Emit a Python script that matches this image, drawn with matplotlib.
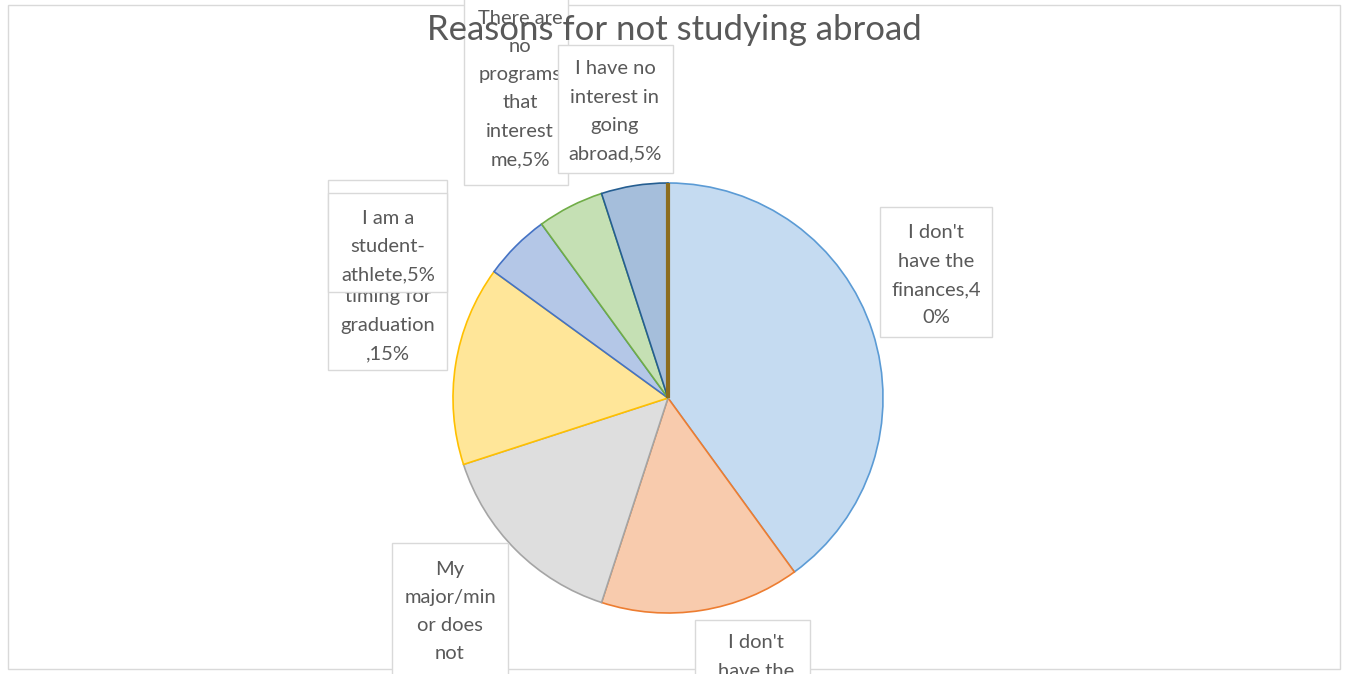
import matplotlib
matplotlib.use("Agg")
import matplotlib.pyplot as plt
from matplotlib.patches import Rectangle

plt.rcParams['font.family'] = ['Lato', 'DejaVu Sans']

title = "Reasons for not studying abroad"
categories = [
    "I don't have the finances",
    "I don't have the time",
    "My major/minor does not allow it",
    "It does not fit with my timing for graduation",
    "I am a student-athlete",
    "There are no programs that interest me",
    "I have no interest in going abroad",
    "Other",
]
values = [40, 15, 15, 15, 5, 5, 5, 0]
label_texts = [
    "I don't\nhave the\nfinances,4\n0%",
    "I don't\nhave the\ntime,15%",
    "My\nmajor/min\nor does\nnot\nallow\nit,15%",
    "It does\nnot fit\nwith my\ntiming for\ngraduation\n,15%",
    "I am a\nstudent-\nathlete,5%",
    "There are\nno\nprograms\nthat\ninterest\nme,5%",
    "I have no\ninterest in\ngoing\nabroad,5%",
    "",
]
fills = ["#C5DBF1", "#F8CBAD", "#DEDEDE", "#FFE699", "#B4C7E7", "#C5E0B4", "#A5BEDB", "#9E480E"]
edges = ["#5B9BD5", "#ED7D31", "#A5A5A5", "#FFC000", "#4472C4", "#70AD47", "#255E91", "#8C6D1F"]

W, H = 1348, 674
fig = plt.figure(figsize=(W / 100, H / 100), dpi=100)
ax = fig.add_axes([0, 0, 1, 1])

cx, cy, r = 668, H - 398, 215
wedges, _ = ax.pie(values, colors=fills, startangle=90, counterclock=False,
                   center=(cx, cy), radius=r, frame=True)
for w, ec in zip(wedges, edges):
    w.set_edgecolor(ec)
    w.set_linewidth(1.2)
wedges[-1].set_linewidth(3)
ax.set_xlim(0, W)
ax.set_ylim(0, H)
ax.set_aspect('equal')
ax.axis('off')

# chart border
ax.add_patch(Rectangle((8, H - 669), 1332, 664, fill=False, ec="#D9D9D9", lw=1, zorder=1))

# label boxes: (x0, y0_top, x1, y1_bottom), text center x, first line y
boxes = [
    ((880, 207, 992, 337), 936, 233),
    ((695, 620, 810, 800), 756, 643),
    ((392, 543, 508, 760), 450, 569),
    ((328, 180, 447, 370), 388, 212),
    ((328, 193, 447, 292), 388, 218),
    ((464, -10, 568, 185), 520, 18),
    ((558, 45, 673, 173), 615, 69),
]
line_h = 28.3
order_z = [5, 5, 5, 5, 6, 5, 6]
for i, ((x0, y0, x1, y1), tx, ty) in enumerate(boxes):
    z = order_z[i]
    ax.add_patch(Rectangle((x0, H - y1), x1 - x0, y1 - y0, fc="white", ec="#D9D9D9",
                           lw=1, zorder=z))
    for k, line in enumerate(label_texts[i].split("\n")):
        ax.text(tx, H - (ty + k * line_h), line, ha='center', va='center',
                fontsize=14.5, color="#595959", zorder=z + 0.1)

ax.text(674, H - 30, title, ha='center', va='center', fontsize=25, color="#595959", zorder=10)

fig.savefig("out.png", dpi=100)
